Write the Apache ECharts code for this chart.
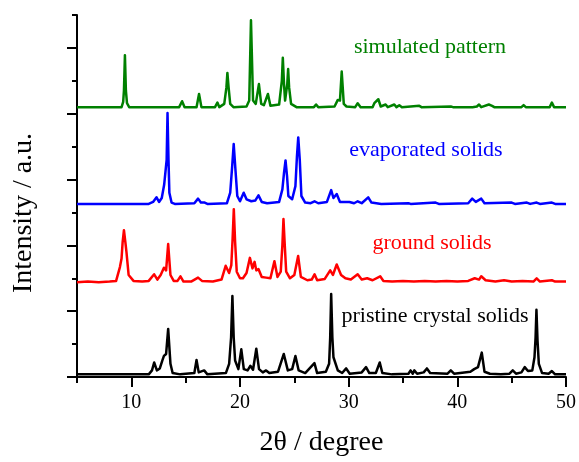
<!DOCTYPE html>
<html>
<head>
<meta charset="utf-8">
<script src="https://cdn.jsdelivr.net/npm/echarts@6/dist/echarts.min.js"></script>
<style>
html,body{margin:0;padding:0;background:#fff;}
#c{width:579px;height:462px;}
</style>
</head>
<body>
<div id="c"></div>
<script>
// ---- data (2θ, offset intensity) ----
var simulated = [[5,4.10],[9.1,4.10],[9.25,4.18],[9.32,4.35],[9.41,4.89],[9.5,4.35],[9.6,4.16],[9.8,4.10],[14.4,4.10],[14.67,4.19],[14.9,4.10],[16.0,4.10],[16.23,4.30],[16.45,4.10],[17.7,4.10],[17.92,4.17],[18.1,4.10],[18.55,4.15],[18.75,4.4],[18.84,4.62],[18.95,4.4],[19.1,4.15],[19.4,4.10],[20.6,4.11],[20.85,4.2],[21.01,5.42],[21.2,4.2],[21.45,4.15],[21.74,4.45],[21.95,4.15],[22.2,4.13],[22.57,4.30],[22.8,4.12],[23.6,4.14],[23.85,4.5],[23.94,4.85],[24.05,4.45],[24.15,4.2],[24.35,4.45],[24.43,4.68],[24.52,4.4],[24.7,4.15],[25.2,4.10],[26.8,4.10],[27.0,4.14],[27.2,4.10],[28.7,4.11],[29.0,4.21],[29.2,4.2],[29.36,4.64],[29.55,4.15],[29.8,4.11],[30.6,4.10],[30.83,4.16],[31.1,4.10],[32.2,4.10],[32.36,4.16],[32.5,4.13],[32.73,4.22],[32.95,4.11],[33.4,4.14],[33.6,4.10],[34.2,4.14],[34.4,4.10],[34.66,4.13],[34.9,4.10],[36.5,4.12],[36.7,4.10],[39.4,4.11],[39.6,4.10],[41.4,4.10],[41.55,4.13],[41.8,4.11],[42.0,4.14],[42.2,4.10],[42.9,4.14],[43.2,4.12],[43.4,4.10],[45.9,4.10],[46.1,4.13],[46.3,4.10],[48.5,4.10],[48.7,4.17],[48.9,4.10],[50,4.10]];
var evaporated = [[5,2.63],[11.6,2.63],[12.0,2.66],[12.32,2.73],[12.55,2.66],[12.8,2.72],[13.02,2.92],[13.15,2.9],[13.25,3.3],[13.33,4.01],[13.42,3.3],[13.5,2.8],[13.7,2.65],[14.0,2.63],[15.8,2.64],[16.14,2.71],[16.4,2.65],[16.75,2.65],[17.0,2.63],[18.8,2.64],[19.1,2.8],[19.28,3.2],[19.42,3.54],[19.58,3.15],[19.75,2.75],[20.0,2.67],[20.34,2.80],[20.6,2.70],[21.04,2.67],[21.4,2.68],[21.7,2.76],[22.0,2.66],[22.5,2.64],[23.6,2.66],[23.9,2.85],[24.05,3.1],[24.19,3.29],[24.33,3.05],[24.45,2.75],[24.8,2.70],[25.1,2.9],[25.24,3.35],[25.36,3.64],[25.5,3.3],[25.65,2.75],[26.0,2.65],[26.5,2.64],[26.86,2.67],[27.2,2.64],[28.0,2.66],[28.39,2.84],[28.6,2.72],[28.9,2.78],[29.2,2.66],[30.07,2.66],[30.5,2.64],[30.83,2.67],[31.2,2.64],[31.8,2.73],[32.1,2.65],[33,2.63],[35.5,2.64],[35.7,2.63],[38.0,2.65],[38.3,2.63],[41.0,2.64],[41.37,2.71],[41.7,2.66],[42.2,2.71],[42.5,2.64],[45.0,2.65],[45.3,2.63],[46.4,2.65],[46.7,2.63],[47.3,2.65],[47.6,2.63],[48.7,2.65],[49,2.63],[50,2.63]];
var ground = [[5,1.44],[6,1.45],[7,1.44],[8,1.45],[8.6,1.46],[8.95,1.67],[9.1,1.8],[9.2,2.05],[9.32,2.23],[9.45,2.05],[9.55,1.9],[9.75,1.55],[10.2,1.46],[11,1.45],[11.6,1.46],[12.1,1.56],[12.4,1.48],[12.7,1.55],[13.0,1.66],[13.2,1.62],[13.39,2.02],[13.6,1.55],[13.9,1.46],[14.25,1.46],[14.52,1.53],[14.8,1.45],[15.5,1.45],[16.14,1.51],[16.5,1.46],[17.5,1.45],[18.3,1.48],[18.68,1.69],[19.0,1.58],[19.2,1.7],[19.32,2.1],[19.43,2.55],[19.55,2.05],[19.7,1.6],[20.0,1.5],[20.27,1.5],[20.6,1.58],[20.91,1.81],[21.15,1.65],[21.34,1.75],[21.5,1.62],[21.7,1.64],[22.0,1.52],[22.4,1.51],[22.8,1.5],[23.17,1.76],[23.45,1.52],[23.75,1.6],[23.9,2.0],[24.0,2.40],[24.12,2.0],[24.25,1.6],[24.6,1.5],[25.0,1.55],[25.35,1.84],[25.6,1.52],[26.2,1.47],[26.6,1.48],[26.86,1.56],[27.1,1.47],[27.8,1.49],[28.3,1.62],[28.55,1.55],[28.9,1.71],[29.3,1.55],[29.7,1.5],[30.2,1.48],[30.83,1.56],[31.2,1.48],[31.7,1.5],[32.2,1.47],[32.9,1.53],[33.2,1.46],[34,1.45],[35,1.46],[36,1.45],[37,1.46],[38,1.45],[39,1.46],[40,1.45],[41.0,1.46],[41.6,1.5],[42.0,1.48],[42.2,1.53],[42.6,1.47],[43.5,1.45],[44.3,1.47],[45,1.45],[46,1.46],[47.0,1.45],[47.3,1.50],[47.6,1.45],[48.7,1.47],[49,1.45],[50,1.45]];
var pristine = [[5,0.04],[11.6,0.04],[11.9,0.1],[12.1,0.22],[12.35,0.1],[12.62,0.13],[12.85,0.25],[13.0,0.32],[13.2,0.35],[13.39,0.73],[13.6,0.2],[13.8,0.06],[14.5,0.04],[15.8,0.06],[16.0,0.26],[16.2,0.07],[16.7,0.1],[17.0,0.04],[18.7,0.06],[19.0,0.2],[19.18,0.6],[19.3,1.23],[19.42,0.6],[19.55,0.25],[19.85,0.12],[20.12,0.42],[20.35,0.12],[20.7,0.1],[20.95,0.17],[21.2,0.11],[21.5,0.43],[21.75,0.12],[22.1,0.07],[22.4,0.10],[22.7,0.06],[23.5,0.08],[24.03,0.35],[24.4,0.1],[24.8,0.12],[25.1,0.32],[25.4,0.1],[26.0,0.06],[26.85,0.21],[27.1,0.06],[27.9,0.08],[28.2,0.2],[28.3,0.6],[28.39,1.26],[28.5,0.6],[28.6,0.3],[28.76,0.30],[29.0,0.1],[29.4,0.06],[29.77,0.13],[30.1,0.05],[31.2,0.07],[31.6,0.15],[31.9,0.06],[32.5,0.06],[32.86,0.22],[33.1,0.06],[34,0.04],[35.5,0.05],[35.7,0.1],[35.9,0.05],[36.04,0.1],[36.3,0.05],[36.9,0.07],[37.2,0.13],[37.5,0.06],[39.1,0.05],[39.4,0.1],[39.7,0.05],[41.2,0.08],[41.55,0.12],[41.9,0.15],[42.25,0.37],[42.5,0.08],[43,0.05],[44,0.04],[44.8,0.05],[45.1,0.1],[45.4,0.05],[45.9,0.07],[46.2,0.15],[46.5,0.09],[46.9,0.1],[47.1,0.3],[47.2,0.6],[47.28,1.02],[47.38,0.55],[47.5,0.2],[47.8,0.06],[48.4,0.05],[48.7,0.09],[49,0.04],[50,0.04]];

var seriesNames = ['simulated pattern', 'evaporated solids', 'ground solids', 'pristine crystal solids'];
var xMajorTicks = [10, 20, 30, 40, 50];
var xMinorTicks = [5, 15, 25, 35, 45];
var yMajorTicks = [0, 1, 2, 3, 4, 5];
var yMinorTicks = [0.5, 1.5, 2.5, 3.5, 4.5, 5.5];

var FONT = '"Liberation Serif", "Times New Roman", serif';
var colors = ['#008000', '#0000ff', '#ff0000', '#000000'];
var datasets = [simulated, evaporated, ground, pristine];

var chart = echarts.init(document.getElementById('c'), null, {renderer: 'canvas'});
var axisLine = {show: true, lineStyle: {color: '#000', width: 2}};
var option = {
  animation: false,
  backgroundColor: '#fff',
  grid: {left: 77, right: 12, top: 15, bottom: 84, containLabel: false},
  xAxis: [{
    type: 'value', min: 5, max: 50, position: 'bottom',
    axisLine: axisLine,
    axisTick: {show: true, inside: false, length: 10, customValues: xMajorTicks, lineStyle: {color: '#000', width: 2}},
    axisLabel: {show: true, customValues: xMajorTicks, margin: 16, fontFamily: FONT, fontSize: 20, color: '#000'},
    splitLine: {show: false},
    name: '2θ / degree', nameLocation: 'middle', nameGap: 52,
    nameTextStyle: {fontFamily: FONT, fontSize: 28, color: '#000'}
  }, {
    type: 'value', min: 5, max: 50, position: 'bottom',
    axisLine: {show: false},
    axisTick: {show: true, length: 6, customValues: xMinorTicks, lineStyle: {color: '#000', width: 2}},
    axisLabel: {show: false},
    splitLine: {show: false}
  }],
  yAxis: [{
    type: 'value', min: 0, max: 5.5, position: 'left',
    axisLine: axisLine,
    axisTick: {show: true, length: 10, customValues: yMajorTicks, lineStyle: {color: '#000', width: 2}},
    axisLabel: {show: false},
    splitLine: {show: false}
  }, {
    type: 'value', min: 0, max: 5.5, position: 'left',
    axisLine: {show: false},
    axisTick: {show: true, length: 5, customValues: yMinorTicks, lineStyle: {color: '#000', width: 2}},
    axisLabel: {show: false},
    splitLine: {show: false}
  }],
  series: datasets.map(function (d, i) {
    return {
      name: seriesNames[i], type: 'line', data: d, xAxisIndex: 0, yAxisIndex: 0,
      showSymbol: false, symbol: 'none', smooth: false,
      lineStyle: {color: colors[i], width: 2.5, join: 'round'}, z: 3 + i
    };
  }),
  graphic: [
    {type: 'text', x: 430, y: 47, style: {text: seriesNames[0], fill: colors[0], font: '22px ' + FONT, textAlign: 'center', textVerticalAlign: 'middle'}},
    {type: 'text', x: 426, y: 150, style: {text: seriesNames[1], fill: colors[1], font: '22px ' + FONT, textAlign: 'center', textVerticalAlign: 'middle'}},
    {type: 'text', x: 432, y: 243, style: {text: seriesNames[2], fill: colors[2], font: '22px ' + FONT, textAlign: 'center', textVerticalAlign: 'middle'}},
    {type: 'text', x: 435, y: 316, style: {text: seriesNames[3], fill: colors[3], font: '22px ' + FONT, textAlign: 'center', textVerticalAlign: 'middle'}},
    {type: 'text', x: 24, y: 213, rotation: Math.PI / 2, style: {text: 'Intensity / a.u.', fill: '#000', font: '28px ' + FONT, textAlign: 'center', textVerticalAlign: 'middle'}}
  ]
};
chart.setOption(option);
</script>
</body>
</html>
